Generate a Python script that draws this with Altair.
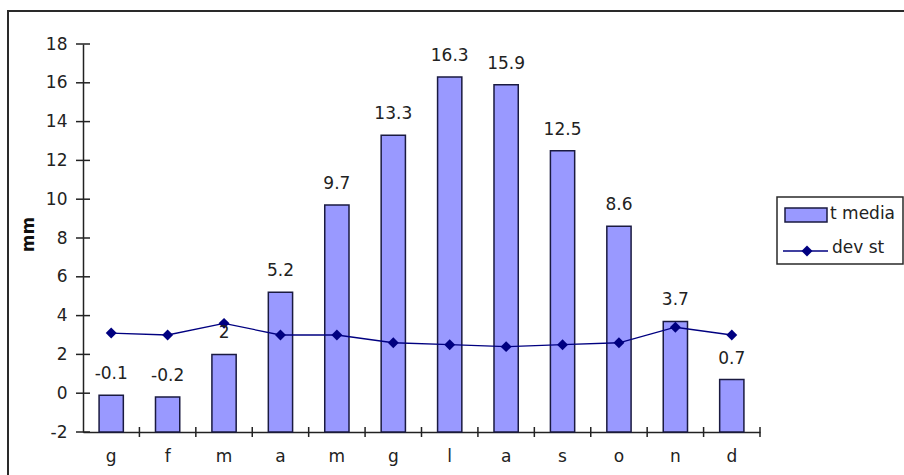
import altair as alt
import pandas as pd

# Monthly data
months = ["g", "f", "m", "a", "m", "g", "l", "a", "s", "o", "n", "d"]
t_media = [-0.1, -0.2, 2.0, 5.2, 9.7, 13.3, 16.3, 15.9, 12.5, 8.6, 3.7, 0.7]
dev_st = [3.1, 3.0, 3.6, 3.0, 3.0, 2.6, 2.5, 2.4, 2.5, 2.6, 3.4, 3.0]
y_ticks = [-2, 0, 2, 4, 6, 8, 10, 12, 14, 16, 18]
series_names = ["t media", "dev st"]

FONT = "DejaVu Sans"
FS = 17
BAR_FILL = "#9999ff"
BAR_STROKE = "#1a1a40"
LINE_COL = "#000080"
AXIS_COL = "#222222"
TEXT_COL = "#222222"

W, H = 677, 388

df = pd.DataFrame({"idx": list(range(len(months))), "t": t_media, "dev": dev_st})
label_js = "[" + ",".join(f"'{m}'" for m in months) + "][datum.value]"

x_scale = alt.Scale(paddingInner=0, paddingOuter=0)
y_scale = alt.Scale(domain=[-2, 18], nice=False, zero=False)

# One shared axis definition per direction, reused in every layer
x_axis = alt.Axis(labelExpr=label_js, labelAngle=0, ticks=False, labelPadding=16,
                  labelFont=FONT, labelFontSize=FS, labelColor=TEXT_COL,
                  domainColor=AXIS_COL, domainWidth=1.5, grid=False, title=None)
y_axis = alt.Axis(values=y_ticks, labelExpr="toString(datum.value)", ticks=False,
                  labelOverlap=False, labelPadding=16, labelFont=FONT, labelFontSize=FS,
                  labelColor=TEXT_COL, domainColor=AXIS_COL, domainWidth=1.5, grid=False,
                  title="mm", titleFont=FONT, titleFontSize=FS, titleFontWeight="bold",
                  titleColor="#111111", titleAngle=270, titleX=-55, titleY=190,
                  titleAlign="center", titleBaseline="middle")


def X(**kw):
    return alt.X("idx:O", scale=x_scale, axis=x_axis, **kw)


def Y(field):
    return alt.Y(field, scale=y_scale, axis=y_axis, title="mm")


base = alt.Chart(df)

# Bars rise from the bottom of the value axis
bars = base.mark_bar(
    width={"band": 0.43}, fill=BAR_FILL, stroke=BAR_STROKE, strokeWidth=1.5
).encode(x=X(), y=Y("t:Q"), y2=alt.datum(-2))

labels = base.mark_text(
    font=FONT, fontSize=FS, color=TEXT_COL, dy=-16, baseline="alphabetic", align="center"
).transform_calculate(lbl="toString(datum.t)").encode(
    x=X(), y=Y("t:Q"), text="lbl:N"
)

dev_line = base.mark_line(
    color=LINE_COL, strokeWidth=1.3,
    point=alt.OverlayMarkDef(shape="diamond", size=120, filled=True, color=LINE_COL),
).encode(x=X(), y=Y("dev:Q"))

# Tick marks crossing both axes
x_ticks = base.mark_rule(color=AXIS_COL, strokeWidth=1.5).encode(
    x=X(bandPosition=1), y=alt.value(H - 5), y2=alt.value(H + 5),
)
y_tick_rules = alt.Chart(pd.DataFrame({"v": y_ticks})).mark_rule(
    color=AXIS_COL, strokeWidth=1.5
).encode(y=Y("v:Q"), x=alt.value(-7), x2=alt.value(7))

# Outer frame of the chart
one = alt.Data(values=[{"k": 0}])
frame = alt.Chart(one).mark_rect(
    fillOpacity=0, stroke="#2a2a2a", strokeWidth=2
).encode(x=alt.value(-75), x2=alt.value(900), y=alt.value(-33), y2=alt.value(520))

# Legend
leg_box = alt.Chart(one).mark_rect(
    fill="white", stroke="#2a2a2a", strokeWidth=1.5
).encode(x=alt.value(694), x2=alt.value(820), y=alt.value(153), y2=alt.value(220))
leg_swatch = alt.Chart(one).mark_rect(
    fill=BAR_FILL, stroke=BAR_STROKE, strokeWidth=1.5
).encode(x=alt.value(702), x2=alt.value(744), y=alt.value(164), y2=alt.value(178))
leg_line = alt.Chart(one).mark_rule(color=LINE_COL, strokeWidth=1.3).encode(
    x=alt.value(700), x2=alt.value(745), y=alt.value(207)
)
leg_point = alt.Chart(one).mark_point(
    shape="diamond", size=120, filled=True, color=LINE_COL, opacity=1
).encode(x=alt.value(724), y=alt.value(207))
leg_text1 = alt.Chart(alt.Data(values=[{"name": series_names[0]}])).mark_text(
    font=FONT, fontSize=FS, color=TEXT_COL, align="left", baseline="middle"
).encode(x=alt.value(747), y=alt.value(170), text="name:N")
leg_text2 = alt.Chart(alt.Data(values=[{"name": series_names[1]}])).mark_text(
    font=FONT, fontSize=FS, color=TEXT_COL, align="left", baseline="middle"
).encode(x=alt.value(749), y=alt.value(204), text="name:N")

chart = alt.layer(
    frame, bars, dev_line, labels, x_ticks, y_tick_rules,
    leg_box, leg_swatch, leg_line, leg_point, leg_text1, leg_text2,
).properties(
    width=W, height=H,
    autosize=alt.AutoSizeParams(type="none"),
    padding={"left": 83, "top": 44, "right": 144, "bottom": 43},
    background="white",
).configure_view(strokeWidth=0)

chart.save("out.html", embed_options={"renderer": "svg", "actions": False})
